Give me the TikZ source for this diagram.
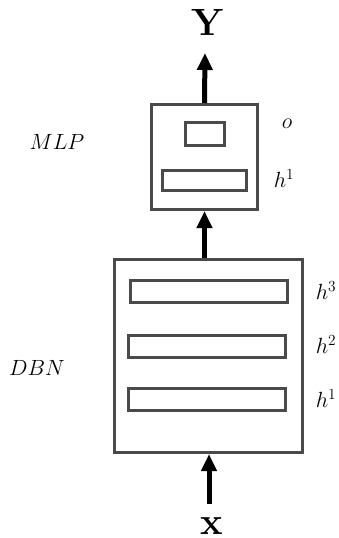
\RequirePackage{fix-cm}
\documentclass[tikz,border=0pt]{standalone}
\usetikzlibrary{arrows.meta}
\definecolor{boxgray}{HTML}{4A4A4A}
\begin{document}
\begin{tikzpicture}[x=1pt,y=-1pt,
  frame/.style={draw=boxgray,line width=3pt,rectangle,inner sep=0pt,fill=white},
  layer/.style={draw=boxgray,line width=3pt,rectangle,inner sep=0pt},
  arr/.style={line width=5pt,-{Triangle[length=17pt,width=15pt]}},
  lab/.style={font=\fontsize{22}{26}\selectfont,inner sep=0pt},
  big/.style={font=\fontsize{38}{42}\selectfont,inner sep=0pt}]
\useasboundingbox (0,0) rectangle (339,538);
% MLP
\node[frame,minimum width=106pt,minimum height=105pt] (mlp) at (204.5,157) {};
\node[layer,minimum width=39pt,minimum height=23pt] (o) at (205,134) {};
\node[layer,minimum width=84pt,minimum height=20pt] (mh1) at (204.5,180.5) {};
% DBN
\node[frame,minimum width=188pt,minimum height=193pt] (dbn) at (208.5,356) {};
\node[layer,minimum width=157pt,minimum height=22pt] (dh3) at (209,291.5) {};
\node[layer,minimum width=157pt,minimum height=22pt] (dh2) at (207,346.5) {};
\node[layer,minimum width=157pt,minimum height=22pt] (dh1) at (207,399.5) {};
% labels
\node[lab] (lo) at (287,124) {$o$};
\node[lab] (lmh1) at (284,179) {$h^1$};
\node[lab] (ldh3) at (326,291) {$h^3$};
\node[lab] (ldh2) at (326,345) {$h^2$};
\node[lab] (ldh1) at (326,399) {$h^1$};
\node[lab] (lmlp) at (57,142) {$MLP$};
\node[lab] (ldbn) at (37,368) {$DBN$};
\node[big] (ylab) at (207.5,22.5) {\textbf{Y}};
\node[big] (xlab) at (211.5,526.5) {\textbf{x}};
% connectors
\coordinate (ytip) at (205,53);
\coordinate (xtail) at (209,504);
\draw[arr] (mlp.north) -- (ytip);
\draw[arr] (dbn.north -| mlp.south) -- (mlp.south);
\draw[arr] (xtail) -- (xtail |- dbn.south);
\end{tikzpicture}
\end{document}
